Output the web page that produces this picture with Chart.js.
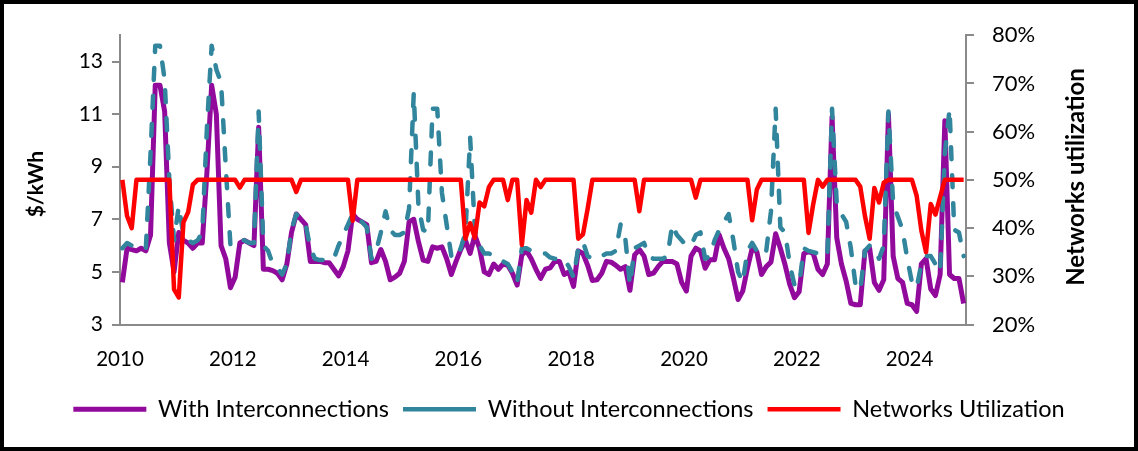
<!DOCTYPE html>
<html>
<head>
<meta charset="utf-8">
<script src="https://cdn.jsdelivr.net/npm/chart.js@4/dist/chart.umd.min.js"></script>
<style>
  html, body { margin: 0; padding: 0; background: #fff; }
  #frame { box-sizing: border-box; width: 1138px; height: 451px; border: 4px solid #000; background: #fff; }
  canvas { display: block; }
</style>
</head>
<body>
<div id="frame"><canvas id="chart" width="1130" height="443"></canvas></div>
<script>
// Monthly series, January 2010 to December 2024 (one row per year)
const firstYear = 2010;

// $/kWh, with interconnections
const withInterconnections = [
  4.6, 5.9, 5.85, 5.8, 5.9, 5.8, 6.4, 12.1, 12.1, 11.1, 6.1, 5.0,
  6.5, 6.2, 6.1, 5.9, 6.1, 6.1, 8.8, 12.1, 11.0, 6.0, 5.5, 4.4,
  4.8, 6.1, 6.2, 6.1, 6.0, 10.5, 5.1, 5.1, 5.05, 4.95, 4.7, 5.3,
  6.5, 7.2, 7.0, 6.8, 5.4, 5.4, 5.4, 5.35, 5.35, 5.1, 4.85, 5.2,
  5.8, 7.2, 7.0, 6.9, 6.8, 5.35, 5.4, 5.85, 5.4, 4.7, 4.8, 4.95,
  5.4, 6.9, 7.0, 6.15, 5.45, 5.4, 5.95, 5.9, 5.95, 5.5, 4.9, 5.4,
  5.85, 6.2, 5.7, 6.4, 5.9, 5.0, 4.9, 5.3, 5.1, 5.3, 5.25, 4.95,
  4.5, 5.65, 5.8, 5.5, 5.1, 4.75, 5.1, 5.15, 5.4, 5.4, 4.9, 5.0,
  4.45, 5.8, 5.7, 5.25, 4.67, 4.7, 4.95, 5.4, 5.37, 5.25, 5.1, 5.2,
  4.3, 5.65, 5.85, 5.6, 4.9, 4.95, 5.2, 5.4, 5.4, 5.4, 5.3, 4.6,
  4.27, 5.6, 5.9, 5.8, 5.14, 5.46, 5.46, 6.4, 5.9, 5.5, 4.77, 3.95,
  4.27, 5.14, 5.9, 5.77, 4.9, 5.2, 5.37, 6.45, 5.9, 5.27, 4.52, 4.02,
  4.25, 5.7, 5.77, 5.7, 5.1, 4.9, 5.3, 10.9, 6.3, 5.3, 4.65, 3.8,
  3.75, 3.75, 5.8, 5.9, 4.6, 4.3, 4.7, 11.0, 5.6, 4.75, 4.6, 3.8,
  3.75, 3.5, 5.3, 5.5, 4.35, 4.1, 4.9, 10.75, 4.9, 4.75, 4.75, 3.8
];

// $/kWh, without interconnections
const withoutInterconnections = [
  5.9, 6.1, 6.0, 5.9, 5.85, 5.9, 9.5, 13.6, 13.6, 12.3, 8.5, 6.2,
  7.5, 6.4, 6.2, 6.1, 6.2, 6.5, 10.5, 13.6, 12.7, 12.2, 9.0, 6.0,
  6.1, 6.2, 6.2, 6.1, 6.1, 11.1, 6.0, 5.8, 5.3, 5.15, 4.9, 5.3,
  6.6, 7.2, 7.0, 6.8, 5.9, 5.5, 5.45, 5.45, 5.5, 5.5, 6.0, 6.4,
  6.8, 7.2, 7.0, 6.9, 6.7, 5.5, 5.8, 6.5, 7.3, 6.6, 6.4, 6.4,
  6.5, 7.4, 11.8, 7.5, 6.6, 6.5, 11.2, 11.2, 8.0, 6.8, 5.6, 5.5,
  5.9, 6.5, 10.1, 6.6, 6.0, 5.7, 5.7, 5.6, 5.5, 5.4, 5.3, 5.0,
  4.6, 5.9, 5.9, 5.8, 5.75, 5.7, 5.7, 5.55, 5.5, 5.5, 5.5, 5.2,
  4.8, 5.9, 6.15, 5.6, 5.5, 5.5, 5.6, 5.7, 5.7, 5.8, 6.8, 6.3,
  4.5, 5.9, 6.0, 6.1, 5.6, 5.5, 5.5, 5.5, 5.6, 6.8, 6.4, 6.2,
  6.0, 6.0, 6.4, 6.5, 5.5, 5.6, 6.2, 6.6, 6.9, 7.2, 6.2, 5.0,
  4.6, 5.8, 6.1, 5.8, 5.6, 5.8, 7.3, 11.2, 6.7, 6.5, 5.3, 4.5,
  4.5, 5.9, 5.8, 5.75, 5.7, 5.65, 5.6, 11.2, 7.6, 7.2, 6.9, 5.9,
  4.5, 4.3, 5.8, 6.0, 5.9, 5.5, 6.0, 11.1, 7.6, 7.1, 6.6, 5.5,
  4.6, 4.4, 5.3, 5.6, 5.6, 5.3, 5.0, 9.5, 11.2, 6.6, 6.5, 5.6
];

// Networks utilization, %
const networksUtilization = [
  50, 42.5, 40, 50, 50, 50, 50, 50, 50, 50, 50, 27.3,
  25.6, 41.2, 43.3, 49, 50, 50, 50, 50, 50, 50, 50, 50,
  50, 48.4, 50, 50, 50, 50, 50, 50, 50, 50, 50, 50,
  50, 47.5, 50, 50, 50, 50, 50, 50, 50, 50, 50, 50,
  50, 41.5, 50, 50, 50, 50, 50, 50, 50, 50, 50, 50,
  50, 50, 50, 50, 50, 50, 50, 50, 50, 50, 50, 50,
  50, 37.8, 41, 38, 45.3, 44.5, 48.5, 50, 50, 50, 45.8, 50,
  50, 36.5, 45.8, 43.2, 50, 48.5, 50, 50, 50, 50, 50, 50,
  50, 37.8, 38.7, 44, 50, 50, 50, 50, 50, 50, 50, 50,
  50, 50, 43.5, 50, 50, 50, 50, 50, 50, 50, 50, 50,
  50, 50, 46.3, 50, 50, 50, 50, 50, 50, 50, 50, 50,
  50, 50, 41.6, 48, 50, 50, 50, 50, 50, 50, 50, 50,
  50, 50, 39, 45, 50, 48.6, 50, 50, 50, 50, 50, 50,
  50, 48.6, 42.5, 37.8, 48.3, 45.3, 49.4, 50, 50, 50, 50, 50,
  50, 46.7, 39.5, 35, 45, 42.8, 46.5, 50, 50, 50, 50, 50
];

// Axis tick labels
const yearTicks = [2010, 2012, 2014, 2016, 2018, 2020, 2022, 2024];
const priceTicks = [3, 5, 7, 9, 11, 13];
const utilizationTicks = [20, 30, 40, 50, 60, 70, 80];

const seriesNames = ['With Interconnections', 'Without Interconnections', 'Networks Utilization'];
const axisTitleLeft = '$/kWh';
const axisTitleRight = 'Networks utilization';

// each monthly value sits in the middle of its month on the time axis
const monthPoints = values => values.map((v, i) => ({ x: firstYear + (i + 0.5) / 12, y: v }));

const AXIS_GREY = '#8a8a8a';
const PURPLE = '#910a9c';
const TEAL = '#31859c';
const RED = '#ff0000';
const FONT = 'Lato, "Open Sans", sans-serif';

Chart.defaults.font.family = FONT;
Chart.defaults.color = '#000';

// rotated axis titles, both reading bottom-to-top
const axisTitles = {
  id: 'axisTitles',
  afterDraw(chart) {
    const { ctx } = chart;
    const left = chart.scales.y, right = chart.scales.y1;
    const put = (text, x, y, size) => {
      ctx.save();
      ctx.translate(x, y);
      ctx.rotate(-Math.PI / 2);
      ctx.font = 'bold ' + size + 'px ' + FONT;
      ctx.fillStyle = '#000';
      ctx.textAlign = 'center';
      ctx.textBaseline = 'middle';
      ctx.fillText(text, 0, 0);
      ctx.restore();
    };
    put(axisTitleLeft, left.left + 32, 180, 21);
    put(axisTitleRight, right.right - 58, 173, 24);
  }
};

const chart = new Chart(document.getElementById('chart'), {
  type: 'line',
  data: {
    datasets: [
      {
        label: seriesNames[0],
        data: monthPoints(withInterconnections),
        yAxisID: 'y',
        borderColor: PURPLE,
        backgroundColor: PURPLE,
        borderWidth: 5,
        borderJoinStyle: 'round',
        borderCapStyle: 'butt',
        pointRadius: 0,
        tension: 0,
        order: 2
      },
      {
        label: seriesNames[1],
        data: monthPoints(withoutInterconnections),
        yAxisID: 'y',
        borderColor: TEAL,
        backgroundColor: TEAL,
        borderWidth: 4.5,
        borderDash: [12, 16],
        borderJoinStyle: 'round',
        borderCapStyle: 'round',
        pointRadius: 0,
        tension: 0,
        order: 1
      },
      {
        label: seriesNames[2],
        data: monthPoints(networksUtilization),
        yAxisID: 'y1',
        borderColor: RED,
        backgroundColor: RED,
        borderWidth: 4.5,
        borderJoinStyle: 'round',
        borderCapStyle: 'butt',
        pointRadius: 0,
        tension: 0,
        order: 0
      }
    ]
  },
  options: {
    responsive: false,
    animation: false,
    events: [],
    layout: { padding: { top: 26, right: 0, bottom: 16, left: 0 } },
    plugins: {
      tooltip: { enabled: false },
      legend: {
        position: 'bottom',
        labels: {
          usePointStyle: true,
          pointStyle: 'line',
          pointStyleWidth: 73,
          boxHeight: 5,
          padding: 14,
          color: '#000',
          font: { size: 23.5 },
          sort: (a, b) => a.datasetIndex - b.datasetIndex
        }
      }
    },
    scales: {
      x: {
        type: 'linear',
        min: firstYear,
        max: 2025,
        afterBuildTicks: s => { s.ticks = yearTicks.map(v => ({ value: v })); },
        afterFit: s => { s.height = 59; },
        grid: { display: true, drawOnChartArea: false, drawTicks: false },
        border: { display: true, color: AXIS_GREY, width: 2 },
        ticks: {
          autoSkip: false, maxRotation: 0, padding: 23,
          color: '#000', font: { size: 20.5 },
          callback: v => String(v)
        }
      },
      y: {
        position: 'left',
        min: 3,
        max: 14,
        afterBuildTicks: s => { s.ticks = priceTicks.map(v => ({ value: v })); },
        afterFit: s => { s.width = 116; },
        grid: { drawOnChartArea: false, drawTicks: true, tickLength: 8, color: AXIS_GREY, lineWidth: 2 },
        border: { display: true, color: AXIS_GREY, width: 2 },
        ticks: { padding: 9, color: '#000', font: { size: 21 }, callback: v => String(v) }
      },
      y1: {
        position: 'right',
        min: 20,
        max: 80,
        afterBuildTicks: s => { s.ticks = utilizationTicks.map(v => ({ value: v })); },
        afterFit: s => { s.width = 168; },
        grid: { drawOnChartArea: false, drawTicks: true, tickLength: 8, color: AXIS_GREY, lineWidth: 2 },
        border: { display: true, color: AXIS_GREY, width: 2 },
        ticks: { padding: 18, color: '#000', font: { size: 22 }, callback: v => v + '%' }
      }
    }
  },
  plugins: [axisTitles]
});

if (document.fonts) {
  Promise.all([
    document.fonts.load('20px Lato'),
    document.fonts.load('bold 20px Lato')
  ]).then(() => chart.update()).catch(() => {});
}
</script>
</body>
</html>
